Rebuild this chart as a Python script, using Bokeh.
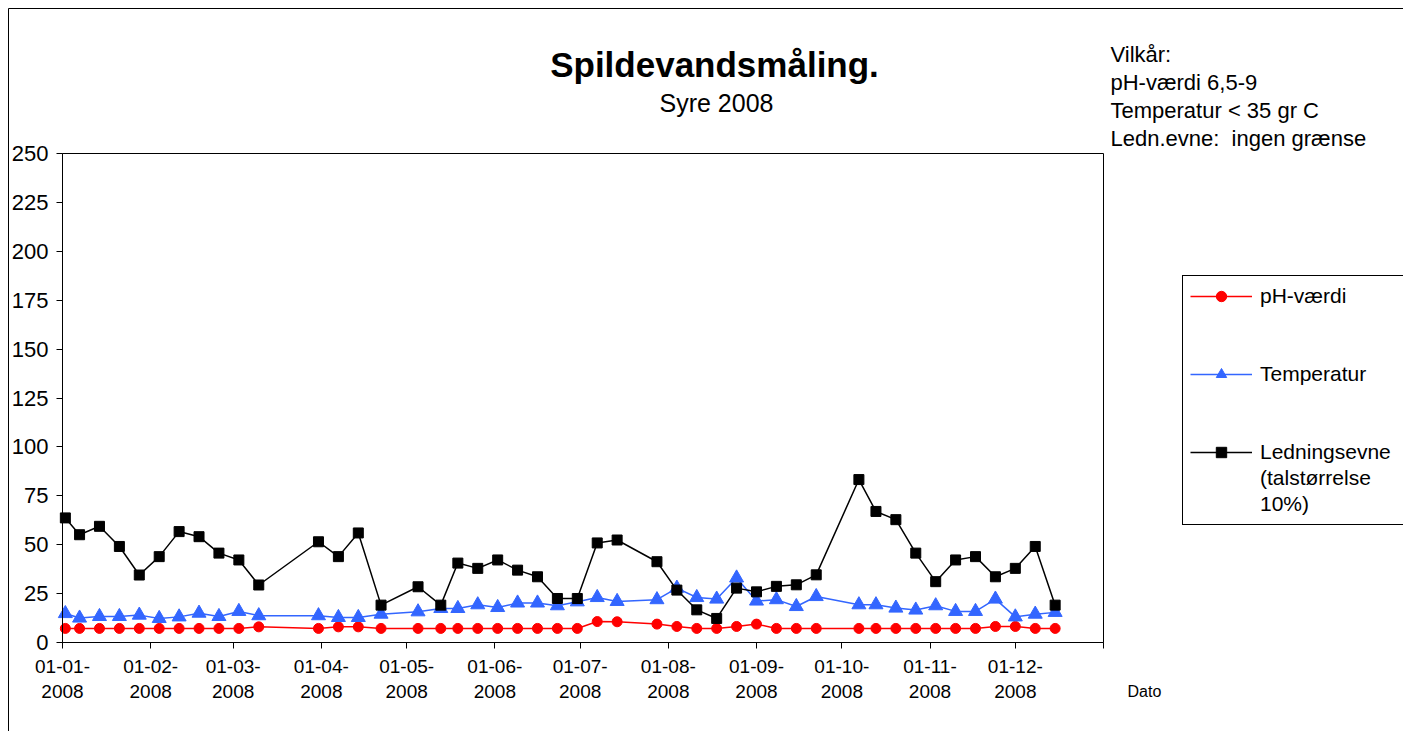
import pandas as pd
from bokeh.plotting import figure
from bokeh.models import (Range1d, FixedTicker, Label, Legend, LegendItem, ColumnDataSource,
                          LinearAxis, BoxAnnotation)
from bokeh.embed import file_html
from bokeh.resources import INLINE

# ---------------- data ----------------
dates = ["2008-01-02", "2008-01-07", "2008-01-14", "2008-01-21", "2008-01-28",
         "2008-02-04", "2008-02-11", "2008-02-18", "2008-02-25",
         "2008-03-03", "2008-03-10", "2008-03-31",
         "2008-04-07", "2008-04-14", "2008-04-22",
         "2008-05-05", "2008-05-13", "2008-05-19", "2008-05-26",
         "2008-06-02", "2008-06-09", "2008-06-16", "2008-06-23", "2008-06-30",
         "2008-07-07", "2008-07-14", "2008-07-28",
         "2008-08-04", "2008-08-11", "2008-08-18", "2008-08-25",
         "2008-09-01", "2008-09-08", "2008-09-15", "2008-09-22",
         "2008-10-07", "2008-10-13", "2008-10-20", "2008-10-27",
         "2008-11-03", "2008-11-10", "2008-11-17", "2008-11-24",
         "2008-12-01", "2008-12-08", "2008-12-15"]

ph_values = [7.2, 7.2, 7.2, 7.2, 7.2, 7.2, 7.2, 7.2, 7.2, 7.2, 8.0, 7.2,
             8.0, 8.0, 7.2,
             7.2, 7.2, 7.2, 7.2,
             7.2, 7.2, 7.2, 7.2, 7.2,
             10.7, 10.6, 9.4,
             8.2, 7.2, 7.2, 8.2,
             9.4, 7.2, 7.2, 7.2,
             7.2, 7.2, 7.2, 7.2,
             7.2, 7.2, 7.2, 8.2,
             8.2, 7.2, 7.2]

temp_values = [14.8, 12.5, 13.3, 13.3, 14.0, 12.3, 13.1, 15.0, 13.3, 15.9, 13.7, 13.7,
               12.8, 12.8, 14.5,
               15.7, 17.4, 17.4, 19.3,
               17.9, 20.2, 20.2, 18.8, 20.8,
               23.0, 21.0, 21.9,
               27.8, 23.0, 22.2, 33.0,
               21.2, 21.9, 18.4, 23.5,
               19.3, 19.3, 17.6, 16.6,
               18.8, 15.9, 15.9, 22.2,
               13.1, 14.5, 15.4]

led_values = [63.7, 55.1, 59.4, 49.1, 34.5, 43.9, 56.7, 54.1, 45.7, 42.2, 29.4, 51.5,
              43.9, 56.0, 19.1,
              28.5, 19.1, 40.6, 37.9,
              42.2, 37.0, 33.6, 22.5, 22.5,
              50.9, 52.4, 41.3,
              26.8, 16.7, 12.3, 27.8,
              25.9, 28.7, 29.5, 34.6,
              83.3, 67.0, 62.8, 45.7,
              31.1, 42.2, 43.9, 33.6,
              37.9, 49.1, 19.1]

month_starts = ["2008-01-01", "2008-02-01", "2008-03-01", "2008-04-01", "2008-05-01",
                "2008-06-01", "2008-07-01", "2008-08-01", "2008-09-01", "2008-10-01",
                "2008-11-01", "2008-12-01", "2009-01-01"]
month_labels = ["01-01-\n2008", "01-02-\n2008", "01-03-\n2008", "01-04-\n2008",
                "01-05-\n2008", "01-06-\n2008", "01-07-\n2008", "01-08-\n2008",
                "01-09-\n2008", "01-10-\n2008", "01-11-\n2008", "01-12-\n2008", ""]

y_ticks = [0, 25, 50, 75, 100, 125, 150, 175, 200, 225, 250]

series_names = ["pH-værdi", "Temperatur", "Ledningsevne", "(talstørrelse", "10%)"]
title_text = "Spildevandsmåling."
subtitle_text = "Syre 2008"
conditions = ["Vilkår:", "pH-værdi 6,5-9", "Temperatur < 35 gr C",
              "Ledn.evne:\u00a0\u00a0ingen grænse"]
x_label = "Dato"

# ---------------- layout (page pixels) ----------------
W, H = 1403, 731
PLOT_L, PLOT_R = 62, 1103      # x pixels of first/last month tick
PLOT_B, PLOT_T = 642, 153      # y pixels of value 0 / 250

origin = pd.Timestamp("2008-01-01")
days = [(pd.Timestamp(d) - origin).days for d in dates]
tick_days = [(pd.Timestamp(d) - origin).days for d in month_starts]
X_MIN, X_MAX = tick_days[0], tick_days[-1]
Y_MIN, Y_MAX = y_ticks[0], y_ticks[-1]


def dx(px):
    return X_MIN + (px - PLOT_L) / (PLOT_R - PLOT_L) * (X_MAX - X_MIN)


def dy(py):
    return Y_MIN + (PLOT_B - py) / (PLOT_B - PLOT_T) * (Y_MAX - Y_MIN)


FONT = "Liberation Sans"

p = figure(width=W, height=H, output_backend="svg", toolbar_location=None,
           x_range=Range1d(dx(0), dx(W)), y_range=Range1d(dy(H), dy(0)),
           x_axis_location=None, y_axis_location=None, min_border=0)
for g in p.grid:
    g.visible = False
p.outline_line_color = None
p.background_fill_color = "white"
p.border_fill_color = "white"

xaxis = LinearAxis(fixed_location=Y_MIN, bounds=(X_MIN, X_MAX), ticker=FixedTicker(ticks=tick_days))
xaxis.major_label_overrides = {t: lab for t, lab in zip(tick_days, month_labels)}
xaxis.major_label_text_font_size = "19px"
xaxis.major_label_standoff = 7
yaxis = LinearAxis(fixed_location=X_MIN, bounds=(Y_MIN, Y_MAX), ticker=FixedTicker(ticks=y_ticks))
yaxis.major_label_text_font_size = "22px"
yaxis.major_label_standoff = 8
for ax in (xaxis, yaxis):
    ax.axis_line_color = "black"
    ax.major_tick_line_color = "black"
    ax.major_tick_out = 6
    ax.major_tick_in = 0
    ax.minor_tick_out = 0
    ax.minor_tick_in = 0
    ax.major_label_text_font = FONT
    ax.major_label_text_color = "black"
p.add_layout(xaxis, "below")
p.add_layout(yaxis, "left")

# plot-area frame and outer chart border
p.add_layout(BoxAnnotation(left=X_MIN, right=X_MAX, bottom=Y_MIN, top=Y_MAX,
                           fill_alpha=0, line_color="black", line_width=1, line_alpha=1))
p.add_layout(BoxAnnotation(left=dx(8), right=dx(W + 50), bottom=dy(H + 50), top=dy(8),
                           fill_alpha=0, line_color="black", line_width=1, line_alpha=1))

src = ColumnDataSource(dict(x=days, ph=ph_values, temp=temp_values, led=led_values))

BLUE = "#3366FF"
ph_line = p.line("x", "ph", source=src, line_color="red", line_width=1.5)
ph_pts = p.scatter("x", "ph", source=src, marker="circle", size=10, fill_color="red", line_color="red")
t_line = p.line("x", "temp", source=src, line_color=BLUE, line_width=1.5)
t_pts = p.scatter("x", "temp", source=src, marker="triangle", size=14, fill_color=BLUE, line_color=BLUE)
l_line = p.line("x", "led", source=src, line_color="black", line_width=1.5)
l_pts = p.scatter("x", "led", source=src, marker="square", size=10, fill_color="black", line_color="black")
blank = p.line("x", "ph", source=src, line_alpha=0)

items = [
    LegendItem(label=series_names[0], renderers=[ph_line, ph_pts]),
    LegendItem(label=" ", renderers=[blank]),
    LegendItem(label=" ", renderers=[blank]),
    LegendItem(label=series_names[1], renderers=[t_line, t_pts]),
    LegendItem(label=" ", renderers=[blank]),
    LegendItem(label=" ", renderers=[blank]),
    LegendItem(label=series_names[2], renderers=[l_line, l_pts]),
    LegendItem(label=series_names[3], renderers=[blank]),
    LegendItem(label=series_names[4], renderers=[blank]),
]
LEG_L, LEG_B = 1182, 525
legend = Legend(items=items, location=(LEG_L, H - LEG_B), padding=7, spacing=0,
                label_height=26, glyph_height=26, glyph_width=62, label_standoff=8,
                label_width=150,
                label_text_font=FONT, label_text_font_size="21px", label_text_color="black",
                border_line_color="black", border_line_width=1, border_line_alpha=1.0,
                background_fill_color="white", background_fill_alpha=1.0)
p.add_layout(legend)

p.add_layout(Label(x=dx(714), y=dy(64), text=title_text,
                   text_font=FONT, text_font_style="bold", text_font_size="35px",
                   text_align="center", text_baseline="middle", text_color="black"))
p.add_layout(Label(x=dx(716), y=dy(102), text=subtitle_text,
                   text_font=FONT, text_font_size="25px",
                   text_align="center", text_baseline="middle", text_color="black"))
for i, line in enumerate(conditions):
    p.add_layout(Label(x=dx(1110), y=dy(54 + 28 * i), text=line,
                       text_font=FONT, text_font_size="22px",
                       text_align="left", text_baseline="middle", text_color="black"))
p.add_layout(Label(x=dx(1127), y=dy(691), text=x_label,
                   text_font=FONT, text_font_size="16px",
                   text_align="left", text_baseline="middle", text_color="black"))

open("out.html", "w", encoding="utf-8").write(file_html(p, INLINE))
